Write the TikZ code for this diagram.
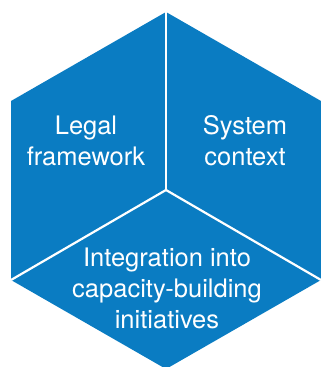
\documentclass[tikz,border=0pt]{standalone}
\usepackage{fontspec}
\setmainfont{TeX Gyre Heros}
\usepackage{tikz}
\definecolor{hexblue}{HTML}{0A7CC2}

\begin{document}
\begin{tikzpicture}[
    x=1pt, y=1pt,
    every node/.style={font=\fontsize{25.5}{31}\selectfont},
    label/.style={
        text=white,
        align=center,
        inner sep=0pt
    },
    divider/.style={draw=white, line width=2.2pt},
    hex/.style={fill=hexblue, draw=none}
]
\useasboundingbox (0,0) rectangle (321,367);

% Corners of the hexagon
\coordinate (c) at (166,177);
\coordinate (top) at (166,355);
\coordinate (ul) at (11,266);
\coordinate (ll) at (11,87);
\coordinate (bot) at (166,-2);
\coordinate (lr) at (321,87);
\coordinate (ur) at (321,266);

% Hexagon body
\path[hex] (top) -- (ul) -- (ll) -- (bot) -- (lr) -- (ur) -- cycle;

% White dividers
\draw[divider] (top) -- (c);
\draw[divider] (c) -- (ll);
\draw[divider] (c) -- (lr);

% Labels
\node[label] (legal) at (86,226) {Legal\\framework};
\node[label] (system) at (245,226) {System\\context};
\node[label] (integ) at (167,79) {Integration into\\capacity-building\\initiatives};

\end{tikzpicture}
\end{document}
